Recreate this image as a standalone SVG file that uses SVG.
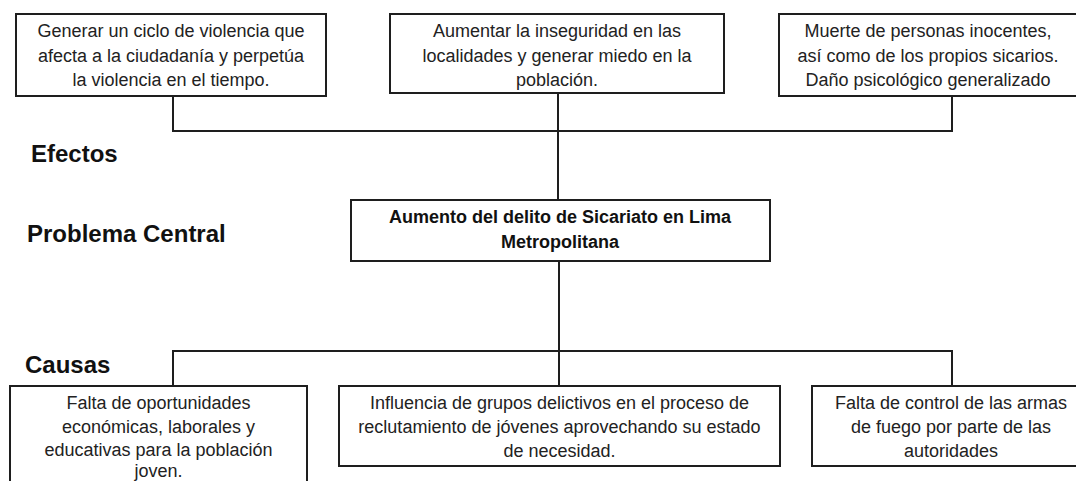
<svg xmlns="http://www.w3.org/2000/svg" width="1076" height="481" viewBox="0 0 1076 481">
<style>
.box{fill:#ffffff;stroke:#1e1e1e;stroke-width:2}
.t{font-family:"Liberation Sans",Arial,sans-serif;font-size:18px;fill:#222;text-anchor:middle}
.tb{font-family:"Liberation Sans",Arial,sans-serif;font-size:18px;font-weight:bold;fill:#111;text-anchor:middle}
.h{font-family:"Liberation Sans",Arial,sans-serif;font-size:24px;font-weight:bold;fill:#111}
.c{fill:none;stroke:#1e1e1e;stroke-width:2}
</style>
<rect width="1076" height="481" fill="#ffffff"/>
<g id="connectors">
<path class="c" d="M173 96 V131 H952 V96"/>
<path class="c" d="M558 93 V200"/>
<path class="c" d="M559 261 V386"/>
<path class="c" d="M173 386 V351 H952 V386"/>
</g>
<g id="label-efectos"><text class="h" x="31" y="162">Efectos</text></g>
<g id="label-problema"><text class="h" x="27" y="242">Problema Central</text></g>
<g id="label-causas"><text class="h" x="25" y="373">Causas</text></g>
<g id="efecto1">
<rect class="box" x="16" y="14" width="310" height="82"/>
<text class="t" x="171" y="37">Generar un ciclo de violencia que</text>
<text class="t" x="171" y="62">afecta a la ciudadanía y perpetúa</text>
<text class="t" x="171" y="86">la violencia en el tiempo.</text>
</g>
<g id="efecto2">
<rect class="box" x="390" y="14" width="334" height="79"/>
<text class="t" x="557" y="37">Aumentar la inseguridad en las</text>
<text class="t" x="557" y="62">localidades y generar miedo en la</text>
<text class="t" x="557" y="86">población.</text>
</g>
<g id="efecto3">
<rect class="box" x="779" y="14" width="300" height="82"/>
<text class="t" x="928" y="37">Muerte de personas inocentes,</text>
<text class="t" x="928" y="62">así como de los propios sicarios.</text>
<text class="t" x="928" y="86">Daño psicológico generalizado</text>
</g>
<g id="problema-central">
<rect class="box" x="351" y="200" width="419" height="61"/>
<text class="tb" x="560" y="223">Aumento del delito de Sicariato en Lima</text>
<text class="tb" x="560" y="248">Metropolitana</text>
</g>
<g id="causa1">
<rect class="box" x="10" y="386" width="297" height="110"/>
<text class="t" x="158.5" y="409">Falta de oportunidades</text>
<text class="t" x="158.5" y="433">económicas, laborales y</text>
<text class="t" x="158.5" y="456">educativas para la población</text>
<text class="t" x="158.5" y="477">joven.</text>
</g>
<g id="causa2">
<rect class="box" x="339" y="386" width="441" height="80"/>
<text class="t" x="559.5" y="409">Influencia de grupos delictivos en el proceso de</text>
<text class="t" x="559.5" y="433">reclutamiento de jóvenes aprovechando su estado</text>
<text class="t" x="559.5" y="457">de necesidad.</text>
</g>
<g id="causa3">
<rect class="box" x="812" y="386" width="278" height="80"/>
<text class="t" x="951" y="409">Falta de control de las armas</text>
<text class="t" x="951" y="433">de fuego por parte de las</text>
<text class="t" x="951" y="457">autoridades</text>
</g>
</svg>
